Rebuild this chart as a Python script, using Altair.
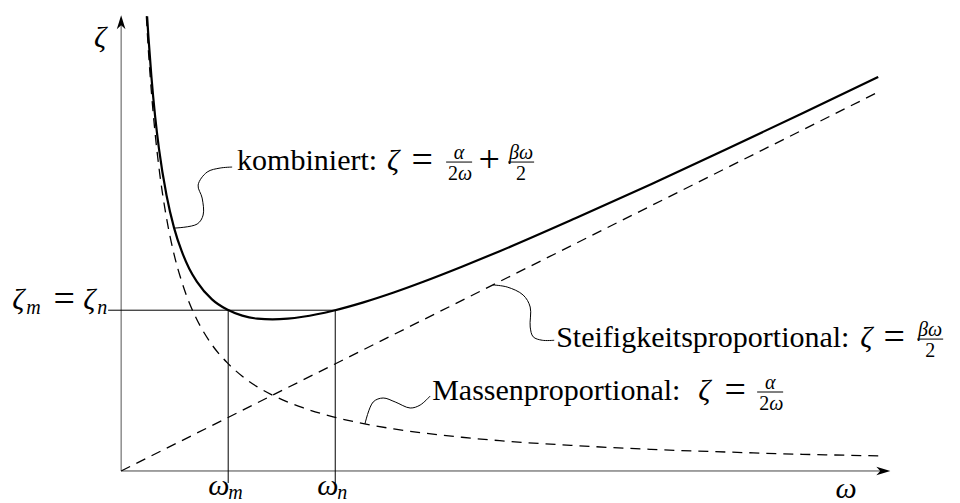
import altair as alt
import pandas as pd

# Rayleigh damping: damping ratio zeta over circular frequency omega
omega_mass = [0.333, 0.36, 0.4, 0.45, 0.5, 0.6, 0.7, 0.8, 0.9, 1.0, 1.2, 1.4, 1.6, 1.8,
              2.0, 2.4, 2.8, 3.2, 3.6, 4.0, 4.5, 5.0, 6.0, 7.0, 8.0, 9.0, 10.0]
zeta_mass = [12.0, 11.1, 10.0, 8.89, 8.0, 6.67, 5.71, 5.0, 4.44, 4.0, 3.33, 2.86, 2.5, 2.22,
             2.0, 1.67, 1.43, 1.25, 1.11, 1.0, 0.89, 0.8, 0.67, 0.57, 0.5, 0.44, 0.4]

omega_comb = [0.343, 0.36, 0.4, 0.45, 0.5, 0.6, 0.7, 0.8, 0.9, 1.0, 1.2, 1.4, 1.6, 1.8,
              2.0, 2.2, 2.4, 2.8, 3.2, 3.6, 4.0, 4.5, 5.0, 6.0, 7.0, 8.0, 9.0, 10.0]
zeta_comb = [12.0, 11.47, 10.4, 9.34, 8.5, 7.27, 6.41, 5.8, 5.34, 5.0, 4.53, 4.26, 4.1, 4.02,
             4.0, 4.02, 4.07, 4.23, 4.45, 4.71, 5.0, 5.39, 5.8, 6.67, 7.57, 8.5, 9.44, 10.4]

omega_stiff = [0.0, 10.0]
zeta_stiff = [0.0, 10.0]

# the two frequencies with equal damping
omega_m, omega_n = 1.414, 2.828
zeta_mn = 4.243

# axis extent (arrow tips)
omega_axis_end = 10.16
zeta_axis_end = 12.03

# leader lines from the labels to the curves
lead_comb_w = [0.70, 1.004, 1.083, 1.070, 1.017, 1.136, 1.308, 1.466]
lead_comb_z = [6.41, 6.517, 6.755, 7.203, 7.546, 7.889, 7.995, 8.021]
lead_stiff_w = [4.91, 5.099, 5.310, 5.403, 5.403, 5.443, 5.562, 5.720]
lead_stiff_z = [4.91, 4.855, 4.644, 4.327, 3.799, 3.540, 3.450, 3.450]
lead_mass_w = [3.22, 3.329, 3.461, 3.620, 3.818, 3.950, 4.082]
lead_mass_z = [1.24, 1.821, 1.926, 1.821, 1.662, 1.741, 1.979]

FONT = "Liberation Serif"
BIG, SMALL, REL = 30, 20, 38

xs = alt.Scale(domain=[-1.6, 11.08], nice=False, zero=False)
ys = alt.Scale(domain=[-0.845, 12.43], nice=False, zero=False)


def X():
    return alt.X("w:Q", scale=xs, axis=None)


def Y():
    return alt.Y("z:Q", scale=ys, axis=None)


def curve(w, z, **mark):
    df = pd.DataFrame({"w": w, "z": z, "i": list(range(len(w)))})
    return alt.Chart(df).mark_line(**mark).encode(x=X(), y=Y(), order="i:Q")


def seg(w1, z1, w2, z2, **mark):
    df = pd.DataFrame({"w": [w1], "z": [z1], "w2": [w2], "z2": [z2]})
    return alt.Chart(df).mark_rule(**mark).encode(x=X(), y=Y(), x2="w2:Q", y2="z2:Q")


def txt(w, z, s, dx=0, dy=0, size=BIG, italic=False, align="left"):
    df = pd.DataFrame({"w": [w], "z": [z], "t": [s]})
    kw = dict(font=FONT, fontSize=size, align=align, baseline="alphabetic",
              dx=dx, dy=dy, color="black")
    if italic:
        kw["fontStyle"] = "italic"
    return alt.Chart(df).mark_text(**kw).encode(x=X(), y=Y(), text="t:N")


def rel(w, z, s, dx):
    # relation / operator sign, a little wider than the text face gives
    return txt(w, z, s, dx=dx, dy=2, size=REL, align="center")


def bar(w, z, x0, x1, dy=-8):
    df = pd.DataFrame({"w": [w], "z": [z]})
    return alt.Chart(df).mark_rule(
        xOffset=x0, x2Offset=x1, yOffset=dy, y2Offset=dy, color="black", strokeWidth=1
    ).encode(x=X(), x2="w:Q", y=Y(), y2="z:Q")


def arrow(w, z, path):
    df = pd.DataFrame({"w": [w], "z": [z]})
    return alt.Chart(df).mark_point(
        shape=path, filled=True, size=196, color="black", opacity=1, strokeWidth=0
    ).encode(x=X(), y=Y())


ARROW_RIGHT = "M0,0 L-2,-0.62 L-1.45,0 L-2,0.62 Z"
ARROW_UP = "M0,0 L-0.62,2 L0,1.45 L0.62,2 Z"

layers = []

# axes
layers.append(seg(0, 0, omega_axis_end - 0.1, 0, color="#444", strokeWidth=1))
layers.append(seg(0, 0, 0, zeta_axis_end - 0.2, color="#555", strokeWidth=1))
layers.append(arrow(omega_axis_end, 0, ARROW_RIGHT))
layers.append(arrow(0, zeta_axis_end, ARROW_UP))

# guide lines at zeta_m = zeta_n
layers.append(seg(-0.172, zeta_mn, omega_n, zeta_mn, color="black", strokeWidth=1))
layers.append(seg(omega_m, -0.317, omega_m, zeta_mn, color="black", strokeWidth=1))
layers.append(seg(omega_n, -0.317, omega_n, zeta_mn, color="black", strokeWidth=1))

# damping curves
dash = [10, 7]
layers.append(curve(omega_mass, zeta_mass, color="black", strokeWidth=1.3,
                    strokeDash=dash, interpolate="monotone"))
layers.append(curve(omega_stiff, zeta_stiff, color="black", strokeWidth=1.3,
                    strokeDash=dash))
layers.append(curve(omega_comb, zeta_comb, color="black", strokeWidth=2.2,
                    interpolate="monotone"))

# leaders
for lw, lz in [(lead_comb_w, lead_comb_z), (lead_stiff_w, lead_stiff_z),
               (lead_mass_w, lead_mass_z)]:
    layers.append(curve(lw, lz, color="black", strokeWidth=1, interpolate="catmull-rom"))

# axis labels
layers.append(txt(-0.277, 11.19, "ζ", italic=True, align="center"))
layers.append(txt(9.577, -0.71, "ω", italic=True, align="center"))
layers.append(txt(omega_m, -0.633, "ω", dx=-20, italic=True))
layers.append(txt(omega_m, -0.633, "m", dx=0, dy=4, size=SMALL, italic=True))
layers.append(txt(omega_n, -0.633, "ω", dx=-18, italic=True))
layers.append(txt(omega_n, -0.633, "n", dx=2, dy=4, size=SMALL, italic=True))

# zeta_m = zeta_n
aw, az = -1.466, 4.274
layers.append(txt(aw, az, "ζ", dx=2, italic=True))
layers.append(txt(aw, az, "m", dx=16, dy=5, size=SMALL, italic=True))
layers.append(rel(aw, az, "=", 54))
layers.append(txt(aw, az, "ζ", dx=73, italic=True))
layers.append(txt(aw, az, "n", dx=87, dy=5, size=SMALL, italic=True))

# combined label
aw, az = 1.532, 7.942
layers.append(txt(aw, az, "kombiniert:"))
layers.append(txt(aw, az, "ζ", dx=150, italic=True))
layers.append(rel(aw, az, "=", 185))
layers.append(txt(aw, az, "α", dx=222, dy=-11, size=SMALL, italic=True, align="center"))
layers.append(bar(aw, az, 209, 235))
layers.append(txt(aw, az, "2", dx=211, dy=10, size=SMALL))
layers.append(txt(aw, az, "ω", dx=221, dy=10, size=SMALL, italic=True))
layers.append(rel(aw, az, "+", 252))
layers.append(txt(aw, az, "βω", dx=284, dy=-11, size=SMALL, italic=True, align="center"))
layers.append(bar(aw, az, 271, 297))
layers.append(txt(aw, az, "2", dx=284, dy=10, size=SMALL, align="center"))

# stiffness-proportional label
aw, az = 5.746, 3.27
layers.append(txt(aw, az, "Steifigkeitsproportional:"))
layers.append(txt(aw, az, "ζ", dx=304, italic=True))
layers.append(rel(aw, az, "=", 338))
layers.append(txt(aw, az, "βω", dx=374, dy=-11, size=SMALL, italic=True, align="center"))
layers.append(bar(aw, az, 361, 387))
layers.append(txt(aw, az, "2", dx=374, dy=10, size=SMALL, align="center"))

# mass-proportional label
aw, az = 4.108, 1.873
layers.append(txt(aw, az, "Massenproportional:"))
layers.append(txt(aw, az, "ζ", dx=266, italic=True))
layers.append(rel(aw, az, "=", 303))
layers.append(txt(aw, az, "α", dx=338, dy=-11, size=SMALL, italic=True, align="center"))
layers.append(bar(aw, az, 325, 351))
layers.append(txt(aw, az, "2", dx=327, dy=10, size=SMALL))
layers.append(txt(aw, az, "ω", dx=337, dy=10, size=SMALL, italic=True))

chart = (
    alt.layer(*layers)
    .properties(width=960, height=503, padding=0,
                autosize=alt.AutoSizeParams(type="none"), background="white")
    .configure_view(stroke=None)
)

chart.save("out.html", embed_options={"renderer": "svg", "actions": False})
